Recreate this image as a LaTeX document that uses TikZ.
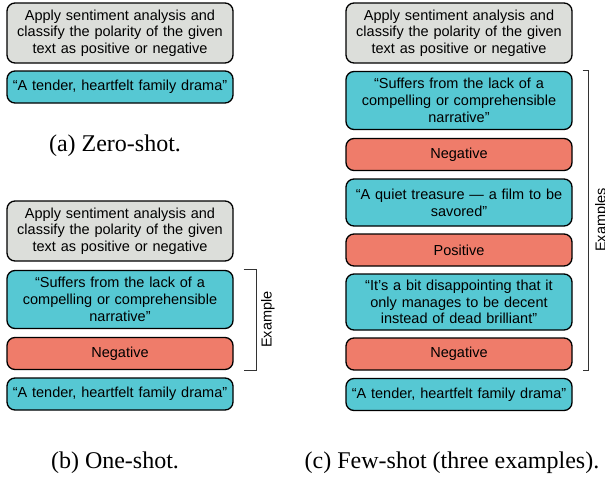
\documentclass[tikz,border=0pt]{standalone}
\usepackage{fontspec}
\setmainfont{Liberation Serif}
\newfontfamily\boxfont{Liberation Sans}
\definecolor{instrgray}{HTML}{DCDEDA}
\definecolor{textcyan}{HTML}{56C8D3}
\definecolor{labelred}{HTML}{EF7C6A}
\begin{document}
\begin{tikzpicture}[x=1pt,y=-1pt,
  box/.style={draw=black, line width=1.3pt, rounded corners=8pt, inner xsep=3pt, inner ysep=0pt,
    text width=220pt, align=center, font=\boxfont\fontsize{14.5}{16.7}\selectfont},
  instr/.style={box, fill=instrgray, minimum height=60pt},
  query/.style={box, fill=textcyan},
  answer/.style={box, fill=labelred, minimum height=32pt},
  one/.style={minimum height=32pt},
  two/.style={minimum height=47pt},
  three/.style={minimum height=58pt},
  caption/.style={font=\fontsize{24}{28}\selectfont, inner sep=0pt},
  brace/.style={draw=black!80, line width=0.8pt},
  bracelabel/.style={rotate=90, anchor=north, inner sep=0pt, font=\boxfont\fontsize{14.5}{16.7}\selectfont}
]
\useasboundingbox (0,0) rectangle (605,479);
% (a) zero-shot
\node[instr] (ai) at (120,33) {Apply sentiment analysis and\\classify the polarity of the given\\text as positive or negative};
\node[query, one] (aq) at (120,87) {“A tender, heartfelt family drama”};
\node[caption] (acap) at (115,146) {(a) Zero-shot.};
% (b) one-shot
\node[instr] (bi) at (120,231) {Apply sentiment analysis and\\classify the polarity of the given\\text as positive or negative};
\node[query, three] (bs) at (120,299.5) {“Suffers from the lack of a\\compelling or comprehensible\\narrative”};
\node[answer] (bn) at (120,353.5) {Negative};
\node[query, one] (bq) at (120,394) {“A tender, heartfelt family drama”};
\draw[brace] ([xshift=10pt]bs.north east) -- ++(13,0) |- ([xshift=10pt]bn.south east);
\node[bracelabel] (blab) at (261,319.5) {Example};
\node[caption] (bcap) at (115,463) {(b) One-shot.};
% (c) few-shot
\node[instr] (ci) at (459,33) {Apply sentiment analysis and\\classify the polarity of the given\\text as positive or negative};
\node[query, three] (cs1) at (459,100.5) {“Suffers from the lack of a\\compelling or comprehensible\\narrative”};
\node[answer] (cn1) at (459,154.5) {Negative};
\node[query, two] (cs2) at (459,202.5) {“A quiet treasure — a film to be\\savored”};
\node[answer] (cp2) at (459,250) {Positive};
\node[query, minimum height=56pt] (cs3) at (459,302) {“It’s a bit disappointing that it\\only manages to be decent\\instead of dead brilliant”};
\node[answer] (cn3) at (459,354) {Negative};
\node[query, one] (cq) at (459,394.5) {“A tender, heartfelt family drama”};
\draw[brace] ([xshift=10pt]cs1.north east) -- ++(6,0) |- ([xshift=10pt]cn3.south east);
\node[bracelabel] (clab) at (595,220) {Examples};
\node[caption] (ccap) at (452,463) {(c) Few-shot (three examples).};
\end{tikzpicture}
\end{document}
